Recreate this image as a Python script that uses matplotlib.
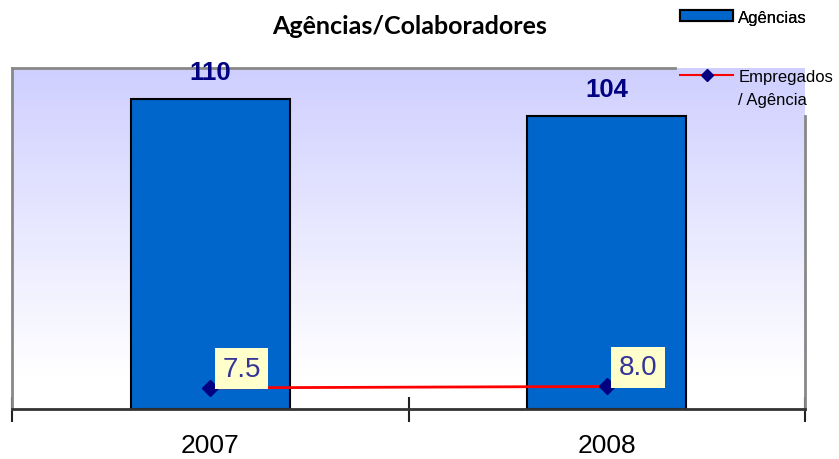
import matplotlib
matplotlib.use("Agg")
import matplotlib.pyplot as plt
import numpy as np
from matplotlib.lines import Line2D
from matplotlib.patches import Patch

categories = ["2007", "2008"]
agencias = [110, 104]
empregados_por_agencia = [7.5, 8.0]
title = "Agências/Colaboradores"
label_bar = "Agências"
label_line_1 = "Empregados"
label_line_2 = "/ Agência"

W, H = 839, 460
fig = plt.figure(figsize=(W / 100, H / 100), dpi=100)
ax = fig.add_axes([12 / W, (460 - 410) / H, (805 - 12) / W, (410 - 69) / H])

# gradient background (lavender at top fading to white near the bottom)
grad = np.clip(np.linspace(0, 1, 256) / 0.9, 0, 1).reshape(-1, 1)
top = np.array([207, 207, 255]) / 255
bot = np.array([255, 255, 255]) / 255
img = top[None, None, :] * (1 - grad[:, :, None]) + bot[None, None, :] * grad[:, :, None]
ax.imshow(img, extent=[0, 1, 0, 1], transform=ax.transAxes, aspect="auto", zorder=0)

x = np.arange(len(categories))
ax.bar(x, agencias, width=0.40, color="#0066CC", edgecolor="black", linewidth=1.5, zorder=2)
ax.plot(x, empregados_por_agencia, color="#FF0000", lw=2, marker="D", markersize=8,
        markerfacecolor="#000080", markeredgecolor="#000080", zorder=3, clip_on=False)

ax.set_xlim(-0.5, len(categories) - 0.5)
ax.set_ylim(0, 121)
ax.set_yticks([])
ax.set_xticks(x)
ax.set_xticklabels(categories, fontsize=19, family="Liberation Sans")
ax.tick_params(axis="x", which="major", length=0, pad=17)
ax.set_xticks(np.arange(-0.5, len(categories), 1.0), minor=True)
ax.tick_params(axis="x", which="minor", direction="inout", length=18, width=1.5, color="#222222")

for s in ["top", "right"]:
    ax.spines[s].set_visible(False)
ax.spines["left"].set_color("#888888")
ax.spines["left"].set_linewidth(2)
ax.spines["bottom"].set_color("#333333")
ax.spines["bottom"].set_linewidth(2)
ax.spines["bottom"].set_zorder(4)
ax.add_line(Line2D([0, (675 - 12) / 793], [1, 1], transform=ax.transAxes, color="#888888", lw=2, clip_on=False))
ax.add_line(Line2D([1, 1], [0, (409 - 117) / 340], transform=ax.transAxes, color="#888888", lw=2, clip_on=False))

for xi, v in zip(x, agencias):
    ax.annotate(str(v), xy=(xi, v), xytext=(0, 20), textcoords="offset pixels",
                ha="center", va="baseline", fontsize=18.5, fontweight="bold",
                color="#000080", family="Liberation Sans", zorder=5, annotation_clip=False)

for xi, v in zip(x, empregados_por_agencia):
    ax.annotate(f"{v:.1f}", xy=(xi, v), xytext=(12, 6), textcoords="offset pixels",
                ha="left", va="bottom", fontsize=20, color="#333399", family="Liberation Sans",
                bbox=dict(boxstyle="square,pad=0.27", facecolor="#FFFFCC", edgecolor="none"), zorder=5)

fig.text(410 / W, 1 - 27 / H, title, ha="center", va="center", fontsize=18,
         fontweight="bold", family="Lato")

h1 = [Patch(facecolor="#0066CC", edgecolor="black", linewidth=1.5)]
leg1 = fig.legend(h1, [label_bar], loc="center left", bbox_to_anchor=(680 / W, 1 - 18 / H),
                  frameon=False, handlelength=3.2, handleheight=0.6,
                  handletextpad=0.3, borderpad=0, borderaxespad=0,
                  prop={"family": "Liberation Sans", "size": 12})
fig.add_artist(leg1)
h2 = [Line2D([], [], color="#FF0000", lw=1.5, marker="D", markersize=6,
             markerfacecolor="#000080", markeredgecolor="#000080"),
      Line2D([], [], color="none")]
leg2 = fig.legend(h2, [label_line_1, label_line_2], loc="upper left",
                  bbox_to_anchor=(680 / W, 1 - 70 / H), frameon=False,
                  handlelength=3.2, handletextpad=0.3, borderpad=0, borderaxespad=0,
                  labelspacing=0.45, prop={"family": "Liberation Sans", "size": 12})

fig.savefig("out.png", dpi=100)
